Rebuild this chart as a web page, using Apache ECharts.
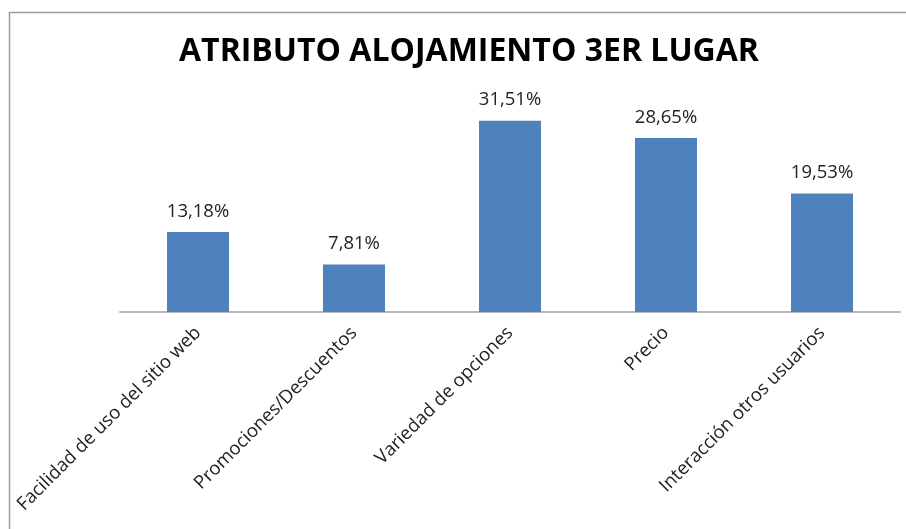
<!DOCTYPE html>
<html>
<head>
<meta charset="utf-8">
<script src="https://cdn.jsdelivr.net/npm/echarts@6/dist/echarts.min.js"></script>
<style>
  html, body { margin: 0; padding: 0; background: #fff; }
  #chart { width: 906px; height: 529px; }
</style>
</head>
<body>
<div id="chart"></div>
<script>
const categories = [
  'Facilidad de uso del sitio web',
  'Promociones/Descuentos',
  'Variedad de opciones',
  'Precio',
  'Interacción otros usuarios'
]
const values = [13.18, 7.81, 31.51, 28.65, 19.53]

const chart = echarts.init(document.getElementById('chart'))

const option = {
  animation: false,
  title: {
    text: 'ATRIBUTO ALOJAMIENTO 3ER LUGAR',
    left: 464,
    top: 31,
    textAlign: 'center',
    textStyle: {
      fontFamily: 'Open Sans',
      fontWeight: 'bold',
      fontSize: 32,
      color: '#000'
    }
  },
  graphic: [{
    type: 'rect',
    shape: { x: 9.5, y: 12.5, width: 1000, height: 600 },
    style: { fill: 'none', stroke: '#9a9a9a', lineWidth: 1.5 },
    silent: true
  }],
  grid: {
    left: 120,
    right: 6,
    top: 99.5,
    bottom: 529 - 312
  },
  xAxis: {
    type: 'category',
    data: categories,
    axisLine: { lineStyle: { color: '#b8b8b8', width: 2 } },
    axisTick: { show: false },
    axisLabel: {
      rotate: 45,
      interval: 0,
      margin: 18,
      fontFamily: 'Open Sans',
      fontSize: 18.5,
      color: '#222'
    }
  },
  yAxis: {
    type: 'value',
    min: 0,
    max: 35,
    show: false,
    splitLine: { show: false }
  },
  series: [{
    type: 'bar',
    data: values,
    barWidth: 62,
    itemStyle: { color: '#4F81BD' },
    label: {
      show: true,
      position: 'top',
      distance: 11,
      fontFamily: 'Open Sans',
      fontSize: 18.5,
      color: '#222',
      formatter: p => p.value.toFixed(2).replace('.', ',') + '%'
    }
  }]
}

chart.setOption(option)
</script>
</body>
</html>
